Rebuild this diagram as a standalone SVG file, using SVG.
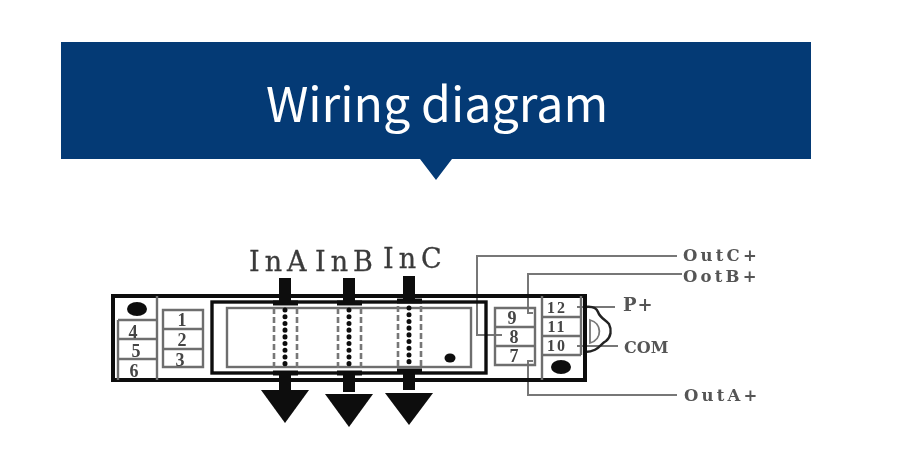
<svg xmlns="http://www.w3.org/2000/svg" width="900" height="468" viewBox="0 0 900 468">
<style>
.k{fill:none;stroke:#111;stroke-width:4}
.g{fill:none;stroke:#6e6e6e;stroke-width:2.400}
.w{fill:none;stroke:#777;stroke-width:2}
.f{fill:#0a0a0a}
.in{font:27px "DejaVu Serif",serif;fill:#3a3a3a;letter-spacing:5px;stroke:#3a3a3a;stroke-width:.3}
.o{font:bold 16.500px "DejaVu Serif",serif;fill:#555;letter-spacing:3.200px}
.n{font:bold 18px "Liberation Serif",serif;fill:#444;text-anchor:middle}
.m{font:bold 16px "Liberation Serif",serif;fill:#444;text-anchor:middle;letter-spacing:2px}
.d{fill:none;stroke:#777;stroke-width:2.600;stroke-dasharray:6 3}
.p{fill:none;stroke:#111;stroke-width:5;stroke-linecap:round;stroke-dasharray:.1 6.600}
</style>
<defs>
<filter id="soft" x="-5%" y="-5%" width="110%" height="110%"><feGaussianBlur stdDeviation="0.45"/></filter>
<g id="ct">
<path class="d" d="M-11 6V68M12 6V68"/>
<path class="p" d="M0 8V68"/>
<path class="k" style="stroke-width:5" d="M-12 1H13M-12 71H13"/>
<rect class="f" x="-6" y="-24" width="12" height="24"/>
<rect class="f" x="-6" y="72" width="12" height="18"/>
</g>
</defs>
<g id="header">
<path fill="#043a75" d="M61 42H811V159H452L436 180L420 159H61Z"/>
<text x="437" y="122" text-anchor="middle" font-family="'Noto Sans CJK SC','Noto Sans',sans-serif" font-size="48.300" font-weight="400" fill="#fff">Wiring diagram</text>
</g>
<g filter="url(#soft)">
<g id="connectors">
<path class="w" d="M677 256H477V335H502"/>
<path class="w" d="M682 274H528V313H533"/>
<path class="w" d="M677 395H528V361H533"/>
<path class="w" d="M577 307H615"/>
<path class="w" d="M577 346H618"/>
<path d="M585 307C594 306 597 309 598 312C600 318 606 320 609 324C612 330 611 337 606 341C600 344 598 352 585 352" fill="none" stroke="#222" stroke-width="2.400"/>
<path d="M590 320C602 323 603 339 590 343Z" fill="none" stroke="#777" stroke-width="1.800"/>
</g>
<g id="housing">
<rect class="k" x="113" y="296" width="472" height="84"/>
<path class="g" d="M157 296V380M542 296V380"/>
<ellipse class="f" cx="137" cy="309" rx="10" ry="7"/>
<ellipse class="f" cx="561" cy="367" rx="10" ry="7"/>
</g>
<g id="display">
<rect class="k" style="stroke-width:3.400" x="212" y="302" width="274" height="71"/>
<rect class="g" x="227" y="308" width="244" height="59"/>
<ellipse class="f" cx="450" cy="358" rx="5.500" ry="4.500"/>
</g>
<g id="terminals-4-6">
<path class="g" d="M118 320H157M118 339H157M118 359H157M118 320V380"/>
<text class="n" x="133" y="338">4</text>
<text class="n" x="136" y="357">5</text>
<text class="n" x="134" y="377">6</text>
</g>
<g id="terminals-1-3">
<path class="g" d="M163 310H203V367H163ZM163 329H203M163 349H203"/>
<text class="n" x="182" y="326">1</text>
<text class="n" x="182" y="346">2</text>
<text class="n" x="180" y="366">3</text>
</g>
<g id="terminals-7-9">
<path class="g" d="M495 308H535V365H495ZM495 327H535M495 346H535"/>
<text class="n" x="512" y="324">9</text>
<text class="n" x="514" y="343">8</text>
<text class="n" x="514" y="362">7</text>
</g>
<g id="terminals-10-12">
<path class="g" d="M542 317H581M542 336H581M542 355H581M581 296V355"/>
<text class="m" x="557" y="313">12</text>
<text class="m" x="557" y="332">11</text>
<text class="m" x="557" y="351">10</text>
</g>
<g id="ct-a"><use href="#ct" x="285" y="302"/><path class="f" d="M261 390H309L285 423Z"/></g>
<g id="ct-b"><use href="#ct" x="349" y="302"/><path class="f" d="M325 394H373L349 427Z"/></g>
<g id="ct-c"><use href="#ct" x="409" y="300"/><path class="f" d="M385 393H433L409 425Z"/></g>
<g id="labels">
<text class="in" x="249" y="271">InA</text>
<text class="in" x="315" y="271">InB</text>
<text class="in" x="383" y="268">InC</text>
<text class="o" x="683" y="261">OutC+</text>
<text class="o" x="683" y="282">OotB+</text>
<text class="o" x="684" y="401">OutA+</text>
<text class="o" x="623" y="311" style="font-size:18px;letter-spacing:1px">P+</text>
<text class="o" style="letter-spacing:0;font-size:16px" x="624" y="353">COM</text>
</g>
</g>
</svg>
